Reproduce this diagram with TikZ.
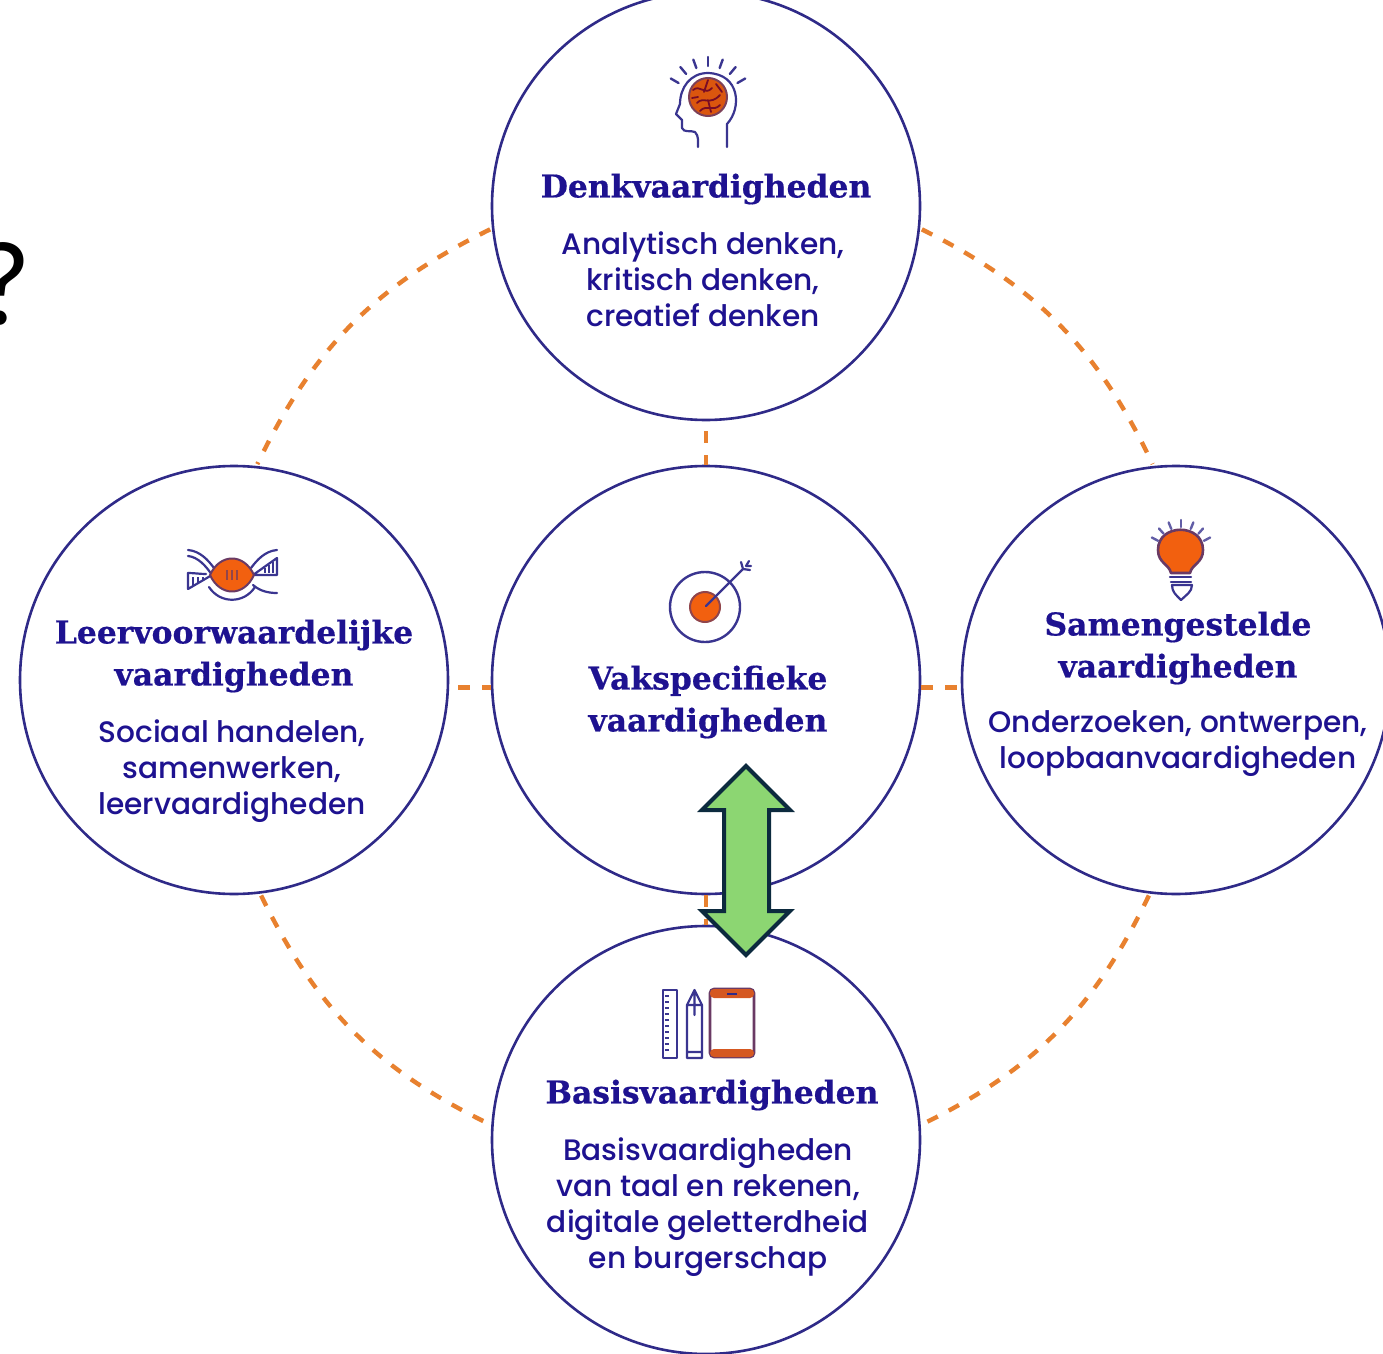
\documentclass[tikz,border=0pt]{standalone}
\usepackage{fontspec}
\setmainfont{Poppins Medium}
\newfontfamily\headfont{DejaVu Serif}[BoldFont={DejaVu Serif Bold},BoldFeatures={FakeBold=0.5}]
\newfontfamily\qfont{Carlito}
\definecolor{navy}{HTML}{1E1290}
\definecolor{ring}{HTML}{2F2A88}
\definecolor{icon}{HTML}{3A3590}
\definecolor{orng}{HTML}{F2600F}
\definecolor{dashc}{HTML}{E8812F}
\definecolor{arrowg}{HTML}{8CD672}
\definecolor{arrowd}{HTML}{0C2A3E}
\tikzset{
  skill/.style={circle,draw=ring,line width=1.3pt,fill=white,minimum size=214pt,inner sep=0pt},
  link/.style={draw=dashc,line width=2.2pt,dash pattern=on 5.8pt off 6.2pt},
  headtxt/.style={text=navy,align=center,font=\headfont\bfseries\fontsize{15.7}{21}\selectfont,inner sep=0pt},
  bodytxt/.style={text=navy,align=center,font=\fontsize{14.8}{18}\selectfont,inner sep=0pt},
  ic/.style={draw=icon,line width=1.1pt,line cap=round,line join=round},
  icfill/.style={draw=ring!70!orng,fill=orng,line width=1pt,line join=round},
}
\begin{document}
\begin{tikzpicture}[x=0.5pt,y=-0.5pt]
\useasboundingbox (0,0) rectangle (1383,1354);
\fill[white] (0,0) rectangle (1383,1354);
% question mark, cut by the left edge
\node[font=\qfont\fontsize{60}{64}\selectfont,inner sep=0pt,anchor=center] (q) at (3,284) {?};
% circles
\node[skill] (top) at (706,206) {};
\node[skill] (left) at (234,680) {};
\node[skill] (mid) at (706,680) {};
\node[skill] (right) at (1176,680) {};
\node[skill] (bot) at (706,1140) {};
% connectors
\draw[link,shorten >=1pt,shorten <=1pt] (top.186) to[bend right=19] (left.84);
\draw[link,shorten >=1pt,shorten <=1pt] (top.-6) to[bend left=19] (right.96);
\draw[link,shorten >=2pt,shorten <=1pt] (left.-83) to[bend right=19] (bot.176);
\draw[link,shorten >=2pt,shorten <=1pt] (right.-97) to[bend left=19] (bot.4);
\draw[link,shorten <=5pt] (top.south) -- (mid.north);
\draw[link,shorten <=4.5pt] (left.-2) -- (mid.182);
\draw[link] (mid.-2) -- (right.182);
\draw[link] (mid.south) -- (bot.north);
% texts
\node[headtxt] (h1) at (706,189) {Denkvaardigheden};
\node[bodytxt] (b1) at (703,279) {Analytisch denken,\\kritisch denken,\\creatief denken};
\node[headtxt] (h2) at (234,656) {Leervoorwaardelijke\\vaardigheden};
\node[bodytxt] (b2) at (232,771) {Sociaal handelen,\\samenwerken,\\leervaardigheden};
\node[headtxt] (h3) at (708,702) {Vakspecifieke\\vaardigheden};
\node[headtxt] (h4) at (1178,648) {Samengestelde\\vaardigheden};
\node[bodytxt] (b4) at (1178,744) {Onderzoeken, ontwerpen,\\loopbaanvaardigheden};
\node[headtxt] (h5) at (712,1095) {Basisvaardigheden};
\node[bodytxt] (b5) at (708,1207) {Basisvaardigheden\\van taal en rekenen,\\digitale geletterdheid\\en burgerschap};
% brain icon
\draw[ic] (727,147) -- (727,124) .. controls (742,108) and (740,74) .. (708,73) .. controls (690,73) and (680,88) .. (680,104) -- (676,114) -- (682,120) -- (682,128) .. controls (684,133) and (690,130) .. (695,132) .. controls (699,136) and (698,142) .. (698,147);
\foreach \a in {-60,-40,-20,0,20,40,60}
  \draw[ic,line width=1.2pt] ({708+34*sin(\a)},{100-34*cos(\a)}) -- ({708+43*sin(\a)},{100-43*cos(\a)});
\fill[orng!90!black,draw=ring!60!orng,line width=1pt] (708,97) circle (19);
\draw[ring!40!red!70!black,line width=.9pt,line cap=round] (693,90) .. controls (700,84) and (705,96) .. (712,88) (697,103) .. controls (703,96) and (710,106) .. (720,95) (700,111) .. controls (706,104) and (714,112) .. (720,105) (708,80) -- (704,92) (716,84) -- (722,92) (692,98) -- (698,97) (708,100) -- (711,112);
% DNA icon
\draw[ic] (188,550) .. controls (200,551) and (208,560) .. (214,568);
\draw[ic] (188,556) .. controls (198,557) and (206,566) .. (212,575);
\draw[ic] (277,550) .. controls (265,551) and (257,560) .. (251,568);
\draw[ic] (277,558) -- (277,575) -- (253,575) -- cycle;
\draw[ic] (188,573) -- (188,589) -- (212,575);
\draw[ic] (188,573) .. controls (194,573) and (200,574) .. (206,574);
\draw[ic] (209,587) .. controls (220,604) and (244,604) .. (255,587);
\draw[ic] (253,585) .. controls (260,591) and (268,593) .. (277,593);
\draw[icfill] (210,575) .. controls (220,553) and (244,553) .. (254,575) .. controls (244,597) and (220,597) .. (210,575) -- cycle;
\draw[ring!50!orng,line width=1pt] (227,570) -- (227,580) (232,570) -- (232,580) (237,570) -- (237,580);
\draw[icon,line width=1.2pt] (193,577) -- (193,586) (198,577) -- (198,584) (203,577) -- (203,581) (265,568) -- (265,573) (269,565) -- (269,573) (273,562) -- (273,573);
% target icon
\draw[ic,line width=1.2pt] (705,607) circle (35);
\fill[orng,draw=ring!50!orng,line width=1pt] (705,607) circle (15);
\draw[ic] (706,606) -- (743,569) -- (741,562) (743,569) -- (750,570) (746,566) -- (749,561) (746,566) -- (751,566);
% bulb icon
\draw[icfill,line width=1.3pt] (1171,573) .. controls (1169,564) and (1158,563) .. (1158,550) .. controls (1158,523) and (1203,523) .. (1203,550) .. controls (1203,563) and (1192,564) .. (1190,573) -- cycle;
\draw[ic] (1170,577) -- (1191,577) (1171,582) -- (1191,582);
\draw[ic] (1172,585) .. controls (1172,592) and (1176,595) .. (1181,600) .. controls (1186,595) and (1192,592) .. (1192,585) -- cycle;
\foreach \a in {-62,-42,-22,0,22,42,62}
  \draw[ic,line width=1.2pt,draw=icon!80] ({1181+26*sin(\a)},{553-26*cos(\a)}) -- ({1181+33*sin(\a)},{553-33*cos(\a)});
% ruler, pencil and tablet icon
\draw[ic] (663,990) rectangle (677,1058);
\foreach \t in {996,1002,...,1052} \draw[icon,line width=.7pt] (665,\t) -- (669,\t);
\draw[ic] (687,1005) -- (694.5,990) -- (702,1005) -- (702,1058) -- (687,1058) -- cycle (687,1052) -- (702,1052) (694.5,992) -- (694.5,1015) (687,1005) -- (702,1005);
\draw[draw=ring!70!orng,line width=1.3pt,rounded corners=2pt] (710,989) rectangle (754,1057);
\fill[orng!85!ring,rounded corners=2pt] (710,989) rectangle (754,998);
\fill[orng!85!ring,rounded corners=2pt] (710,1049) rectangle (754,1057);
\draw[ring,line width=1pt] (727,994) -- (737,994);
% green two-way arrow
\draw[fill=arrowg,draw=arrowd,line width=2pt,miter limit=10] (746,766) -- (702,810) -- (724,810) -- (724,911) -- (702,911) -- (746,955) -- (790,911) -- (769,911) -- (769,810) -- (790,810) -- cycle;
\end{tikzpicture}
\end{document}
